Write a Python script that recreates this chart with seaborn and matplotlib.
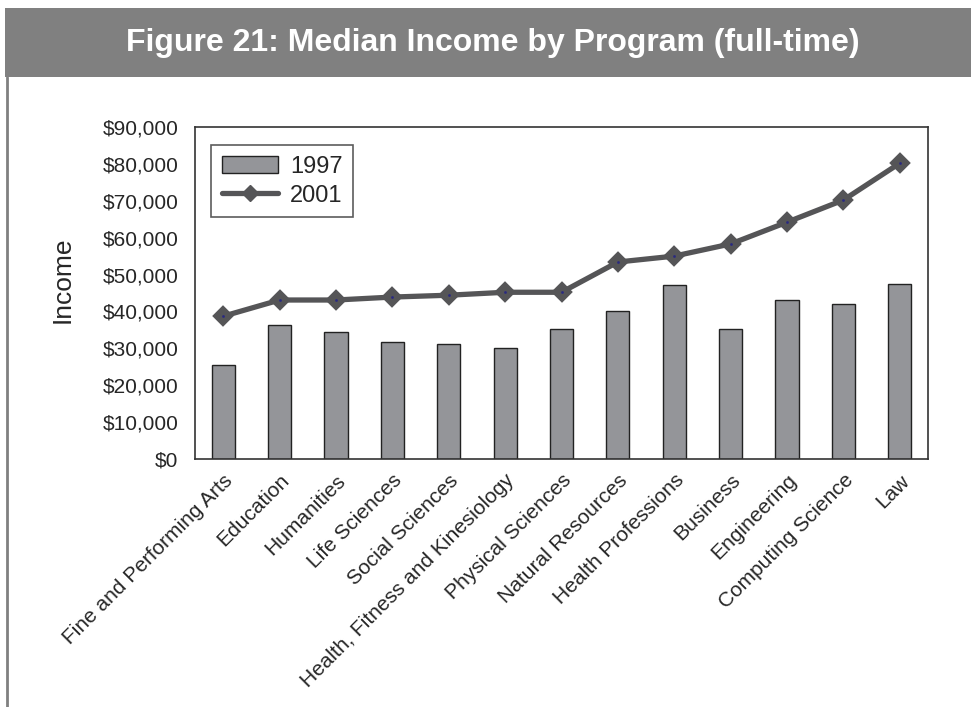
import matplotlib
matplotlib.use("Agg")
import matplotlib.pyplot as pyplot
from matplotlib.patches import Patch, Rectangle
from matplotlib.lines import Line2D
import pandas
import seaborn

programs = ["Fine and Performing Arts", "Education", "Humanities", "Life Sciences",
            "Social Sciences", "Health, Fitness and Kinesiology", "Physical Sciences",
            "Natural Resources", "Health Professions", "Business", "Engineering",
            "Computing Science", "Law"]
income_1997 = [25500, 36200, 34300, 31700, 31200, 30100, 35200,
               40100, 47200, 35200, 43100, 42000, 47400]
income_2001 = [38700, 43100, 43100, 43900, 44400, 45200, 45200,
               53400, 55000, 58300, 64200, 70200, 80200]
yticks = list(range(0, 90001, 10000))
ytick_labels = ["$0"] + ["${:,}".format(v) for v in yticks[1:]]

df = pandas.DataFrame({"program": programs, "y1997": income_1997, "y2001": income_2001})

seaborn.set_style("white")
pyplot.rcParams["font.family"] = ["Liberation Sans", "DejaVu Sans"]

bar_col = "#949599"
line_col = "#555557"

fig = pyplot.figure(figsize=(9.71, 7.07), dpi=100)
ax = fig.add_axes([195 / 971, 1 - 459 / 707, 733 / 971, 332 / 707])

seaborn.barplot(data=df, x="program", y="y1997", color=bar_col, width=0.41,
                edgecolor="#222222", linewidth=1.0, saturation=1, ax=ax)
seaborn.pointplot(data=df, x="program", y="y2001", color=line_col, markers="D",
                  linestyles="-", ax=ax,
                  linewidth=3.8, markersize=8, markeredgecolor=line_col)
# tiny navy dots in the centre of each marker
seaborn.scatterplot(data=df, x="program", y="y2001", color="#2a2a80", s=4,
                    linewidth=0, ax=ax, zorder=5)

ax.set_ylim(0, 90000)
ax.set_xlim(-0.5, len(programs) - 0.5)
ax.set_yticks(yticks)
ax.set_yticklabels(ytick_labels, fontsize=15)
ax.set_xticks(range(len(programs)))
ax.set_xticklabels(programs, rotation=45, ha="right", rotation_mode="anchor", fontsize=15)
ax.tick_params(axis="x", pad=5)
ax.tick_params(axis="y", pad=8.5)
ax.set_xlabel("")
ax.set_ylabel("Income", fontsize=19)
ax.yaxis.set_label_coords(-0.164, 0.54)
for side in ["top", "right", "left", "bottom"]:
    ax.spines[side].set_visible(True)
    ax.spines[side].set_color("#333333")
    ax.spines[side].set_linewidth(1.2)

handles = [Patch(facecolor=bar_col, edgecolor="#222222", linewidth=1.0),
           Line2D([0], [0], color=line_col, linewidth=3.8, marker="D", markersize=8)]
leg = ax.legend(handles, ["1997", "2001"], loc="upper left", bbox_to_anchor=(0.022, 0.946),
                fontsize=17, frameon=True, fancybox=False, handlelength=2.4,
                handletextpad=0.5, borderpad=0.45, labelspacing=0.3, borderaxespad=0)
leg.get_frame().set_edgecolor("#333333")
leg.get_frame().set_linewidth(1.2)

# title banner and left border line
fig.patches.append(Rectangle((5 / 971, 1 - 77 / 707), 966 / 971, 69 / 707,
                             transform=fig.transFigure, facecolor="#808080",
                             edgecolor="none", zorder=0))
fig.lines.append(Line2D([6.5 / 971, 6.5 / 971], [0, 1 - 77 / 707],
                        transform=fig.transFigure, color="#808080", linewidth=2))
fig.text(493 / 971, 1 - 43 / 707, "Figure 21: Median Income by Program (full-time)",
         ha="center", va="center", color="white", fontsize=23, fontweight="bold")

fig.savefig("out.png", dpi=100)
